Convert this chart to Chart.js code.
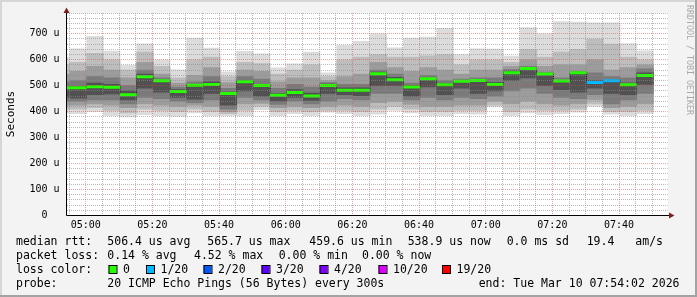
<!DOCTYPE html>
<html>
<head>
<meta charset="utf-8">
<script src="https://cdn.jsdelivr.net/npm/chart.js@4.4.1/dist/chart.umd.min.js"></script>
<style>
  html, body { margin: 0; padding: 0; background: #f3f3f3; }
  canvas { display: block; }
</style>
</head>
<body>
<canvas id="smoke" width="697" height="297"></canvas>
<script>
// start time of each 5 minute step
const slots = ["04:50", "04:55", "05:00", "05:05", "05:10", "05:15", "05:20", "05:25", "05:30",
  "05:35", "05:40", "05:45", "05:50", "05:55", "06:00", "06:05", "06:10", "06:15", "06:20",
  "06:25", "06:30", "06:35", "06:40", "06:45", "06:50", "06:55", "07:00", "07:05", "07:10",
  "07:15", "07:20", "07:25", "07:30", "07:35", "07:40", "07:45"];

// smoke: outer band (min..max) down to the inner band, values in microseconds
const rttMin    = [395, 392, 400, 385, 380, 388, 385, 382, 395, 385, 385, 385, 408, 385, 392, 385, 398, 392, 385, 390, 405, 395, 385, 385, 392, 390, 418, 385, 395, 388, 392, 398, 420, 390, 385, 392];
const rttMax    = [610, 642, 690, 633, 578, 661, 600, 561, 683, 645, 553, 632, 623, 569, 584, 629, 550, 655, 671, 700, 646, 683, 687, 721, 620, 642, 641, 614, 724, 700, 747, 745, 742, 742, 662, 634];
const band2Low  = [410, 410, 415, 405, 395, 410, 405, 400, 410, 400, 392, 405, 420, 400, 405, 400, 405, 405, 400, 410, 420, 410, 400, 400, 405, 405, 425, 400, 410, 405, 405, 410, 430, 400, 400, 405];
const band2High = [580, 590, 625, 600, 560, 630, 575, 530, 600, 610, 535, 590, 585, 545, 560, 580, 535, 600, 610, 620, 610, 610, 615, 620, 580, 600, 600, 590, 640, 610, 630, 640, 680, 660, 610, 600];
const band3Low  = [425, 425, 430, 425, 415, 430, 425, 420, 425, 420, 400, 430, 432, 415, 420, 415, 420, 425, 420, 435, 440, 428, 420, 420, 425, 425, 440, 430, 440, 430, 425, 430, 445, 415, 420, 430];
const band3High = [545, 555, 575, 560, 530, 590, 545, 510, 540, 570, 512, 560, 555, 515, 530, 530, 520, 535, 545, 590, 570, 555, 570, 560, 545, 560, 560, 575, 600, 575, 580, 580, 600, 560, 570, 580];
const band4Low  = [440, 440, 445, 445, 430, 455, 450, 440, 435, 445, 410, 455, 445, 428, 440, 430, 440, 450, 445, 470, 470, 445, 455, 445, 455, 450, 460, 480, 490, 470, 455, 450, 465, 430, 445, 470];
const band4High = [515, 520, 535, 530, 500, 560, 530, 495, 515, 535, 490, 535, 525, 490, 505, 495, 512, 505, 505, 560, 545, 510, 540, 520, 525, 530, 530, 562, 575, 552, 530, 555, 550, 535, 530, 565];
const band5Low  = [455, 452, 465, 468, 445, 490, 475, 455, 448, 470, 425, 480, 460, 440, 455, 443, 470, 465, 462, 500, 500, 460, 495, 465, 490, 470, 480, 520, 530, 500, 485, 475, 490, 470, 465, 505];
const band5High = [498, 498, 510, 505, 480, 545, 520, 485, 505, 515, 475, 520, 505, 470, 485, 472, 506, 492, 492, 552, 532, 500, 530, 508, 520, 523, 512, 556, 570, 546, 520, 550, 520, 522, 510, 550];

// median rtt and lost pings (out of 20) per step
const medianRtt = [492, 492, 496, 494, 465, 534, 519, 478, 502, 505, 470, 515, 501, 463, 474, 460, 501, 482, 482, 546, 523, 495, 527, 504, 517, 520, 505, 550, 566, 545, 518, 550, 512, 519, 504, 539];
const lossCount = [0, 0, 0, 0, 0, 0, 0, 0, 0, 0, 0, 0, 0, 0, 0, 0, 0, 0, 0, 0, 0, 0, 0, 0, 0, 0, 0, 0, 0, 0, 0, 0, 1, 1, 0, 0];

// legend
const lossSteps = ["0", "1/20", "2/20", "3/20", "4/20", "10/20", "19/20"];
const lossColors = ["#26ff00", "#00b8ff", "#0059ff", "#5e00ff", "#7e00ff", "#dd00ff", "#ff0000"];
const rttStats = ["506.4 us avg", "565.7 us max", "459.6 us min", "538.9 us now", "0.0 ms sd", "19.4", "am/s"];
const lossStats = ["0.14 % avg", "4.52 % max", "0.00 % min", "0.00 % now"];
const probeText = "20 ICMP Echo Pings (56 Bytes) every 300s";
const endText = "end: Tue Mar 10 07:54:02 2026";

function toMinutes(s) {
    const p = s.split(":");
    return Number(p[0]) * 60 + Number(p[1]);
}
function hhmm(v) {
    const h = Math.floor(v / 60), m = Math.round(v % 60);
    return String(h).padStart(2, "0") + ":" + String(m).padStart(2, "0");
}

// bar centre of every step (steps are a few seconds after the 5 min mark)
const centres = slots.map(s => toMinutes(s) + 2.8);

function band(lo, hi) {
    return centres.map((x, i) => ({ x: x, y: [lo[i], hi[i]] }));
}

const smokeGreys = ["#dcdcdc", "#bdbdbd", "#9c9c9c", "#7a7a7a", "#515151"];
const smokeBands = [
    band(rttMin, rttMax),
    band(band2Low, band2High),
    band(band3Low, band3High),
    band(band4Low, band4High),
    band(band5Low, band5High),
];

const datasets = smokeBands.map((d, i) => ({
    type: "bar",
    data: d,
    backgroundColor: smokeGreys[i],
    borderWidth: 0,
    grouped: false,
    barPercentage: 1,
    categoryPercentage: 1,
    order: 10 - i,
}));

datasets.push({
    type: "line",
    data: centres.map((x, i) => ({ x: x, y: medianRtt[i] })),
    stepped: "middle",
    borderColor: "rgba(0,0,0,0.6)",
    borderWidth: 1,
    borderDash: [1, 1],
    pointStyle: "line",
    pointRadius: 8.33,
    pointBorderWidth: 3,
    pointBorderColor: centres.map((x, i) => lossColors[lossCount[i]]),
    order: 0,
});

const minorGrid = "rgba(140,140,140,0.6)";
const majorGrid = "rgba(200,80,80,0.5)";

const frame = {
    id: "frame",
    beforeDraw(chart) {
        const { ctx, chartArea: a, width: w, height: h } = chart;
        ctx.save();
        ctx.fillStyle = "#f3f3f3";
        ctx.fillRect(0, 0, w, h);
        ctx.fillStyle = "#d6d6d6";
        ctx.fillRect(0, 0, w, 2);
        ctx.fillRect(0, 0, 2, h);
        ctx.fillStyle = "#a3a3a3";
        ctx.fillRect(0, h - 2, w, 2);
        ctx.fillRect(w - 2, 0, 2, h);
        ctx.fillStyle = "#ffffff";
        ctx.fillRect(a.left, a.top, a.right - a.left, a.bottom - a.top);
        ctx.restore();
    },
    afterDraw(chart) {
        const { ctx, chartArea: a } = chart;
        ctx.save();
        // axes with arrows
        ctx.strokeStyle = "#000";
        ctx.lineWidth = 1;
        ctx.beginPath();
        ctx.moveTo(a.left, a.bottom);
        ctx.lineTo(669, a.bottom);
        ctx.moveTo(a.left, a.bottom);
        ctx.lineTo(a.left, a.top);
        ctx.stroke();
        ctx.fillStyle = "#7f1f1f";
        ctx.beginPath();
        ctx.moveTo(669, a.bottom - 3);
        ctx.lineTo(674.5, a.bottom);
        ctx.lineTo(669, a.bottom + 3);
        ctx.closePath();
        ctx.fill();
        ctx.beginPath();
        ctx.moveTo(a.left - 3, a.top);
        ctx.lineTo(a.left, a.top - 5.5);
        ctx.lineTo(a.left + 3, a.top);
        ctx.closePath();
        ctx.fill();

        // y title
        ctx.fillStyle = "#000";
        ctx.font = '11px "DejaVu Sans Mono"';
        ctx.textAlign = "center";
        ctx.textBaseline = "middle";
        ctx.save();
        ctx.translate(11, 114);
        ctx.rotate(-Math.PI / 2);
        ctx.fillText("Seconds", 0, 0);
        ctx.restore();

        // watermark
        ctx.save();
        ctx.fillStyle = "#a8a8a8";
        ctx.font = '8.3px "DejaVu Sans Mono"';
        ctx.translate(689, 60);
        ctx.rotate(Math.PI / 2);
        ctx.fillText("RRDTOOL / TOBI OETIKER", 0, 0);
        ctx.restore();

        // legend
        ctx.font = '11.5px "DejaVu Sans Mono"';
        ctx.textAlign = "left";
        ctx.textBaseline = "alphabetic";
        const rows = [245.3, 259.3, 273.3, 287.3];
        ctx.fillText("median rtt:", 16, rows[0]);
        [107.3, 207.3, 309.3, 407.7, 506.7, 586.7, 635.3].forEach((x, i) => ctx.fillText(rttStats[i], x, rows[0]));
        ctx.fillText("packet loss:", 16, rows[1]);
        [107.3, 194, 278.7, 362].forEach((x, i) => ctx.fillText(lossStats[i], x, rows[1]));
        ctx.fillText("loss color:", 16, rows[2]);
        [108.5, 146, 203.5, 261.5, 319.5, 378.5, 442].forEach((x, i) => {
            ctx.fillStyle = lossColors[i];
            ctx.fillRect(x, 265, 8, 8);
            ctx.strokeStyle = "#000";
            ctx.strokeRect(x + 0.5, 265.5, 8, 8);
            ctx.fillStyle = "#000";
            ctx.fillText(lossSteps[i], x + 14.5, rows[2]);
        });
        ctx.fillText("probe:", 16, rows[3]);
        ctx.fillText(probeText, 107.3, rows[3]);
        ctx.fillText(endText, 478.7, rows[3]);
        ctx.restore();
    },
};

Chart.defaults.font.family = "DejaVu Sans Mono";
Chart.defaults.font.size = 10;
Chart.defaults.color = "#000";

new Chart(document.getElementById("smoke"), {
    type: "bar",
    data: { datasets: datasets },
    options: {
        responsive: false,
        animation: false,
        devicePixelRatio: 1,
        layout: { padding: { left: 0, top: 12.7, right: 29.3, bottom: 61.5 } },
        plugins: { legend: { display: false }, tooltip: { enabled: false } },
        scales: {
            x: {
                type: "linear",
                min: 294.24,
                max: 474.6,
                offset: false,
                afterFit(scale) { scale.height = 20; },
                grid: {
                    offset: false,
                    z: 1,
                    drawTicks: false,
                    color: c => (c.tick && c.tick.value % 20 === 0 ? majorGrid : minorGrid),
                },
                border: { display: false, dash: [1, 1] },
                ticks: {
                    stepSize: 5,
                    includeBounds: false,
                    autoSkip: false,
                    maxRotation: 0,
                    maxTicksLimit: 1000,
                    padding: 4,
                    callback: v => (v % 20 === 0 ? hhmm(v) : ""),
                },
            },
            y: {
                min: 0,
                max: 780,
                afterFit(scale) { scale.width = 66.5; },
                grid: {
                    z: 1,
                    drawTicks: false,
                    color: c => (c.tick && c.tick.value % 100 === 0 ? majorGrid : minorGrid),
                },
                border: { display: false, dash: [1, 1] },
                ticks: {
                    stepSize: 20,
                    autoSkip: false,
                    padding: 7,
                    callback: v => (v % 100 === 0 ? (v === 0 ? "0  " : v + " u") : ""),
                },
            },
        },
    },
    plugins: [frame],
});
</script>
</body>
</html>
